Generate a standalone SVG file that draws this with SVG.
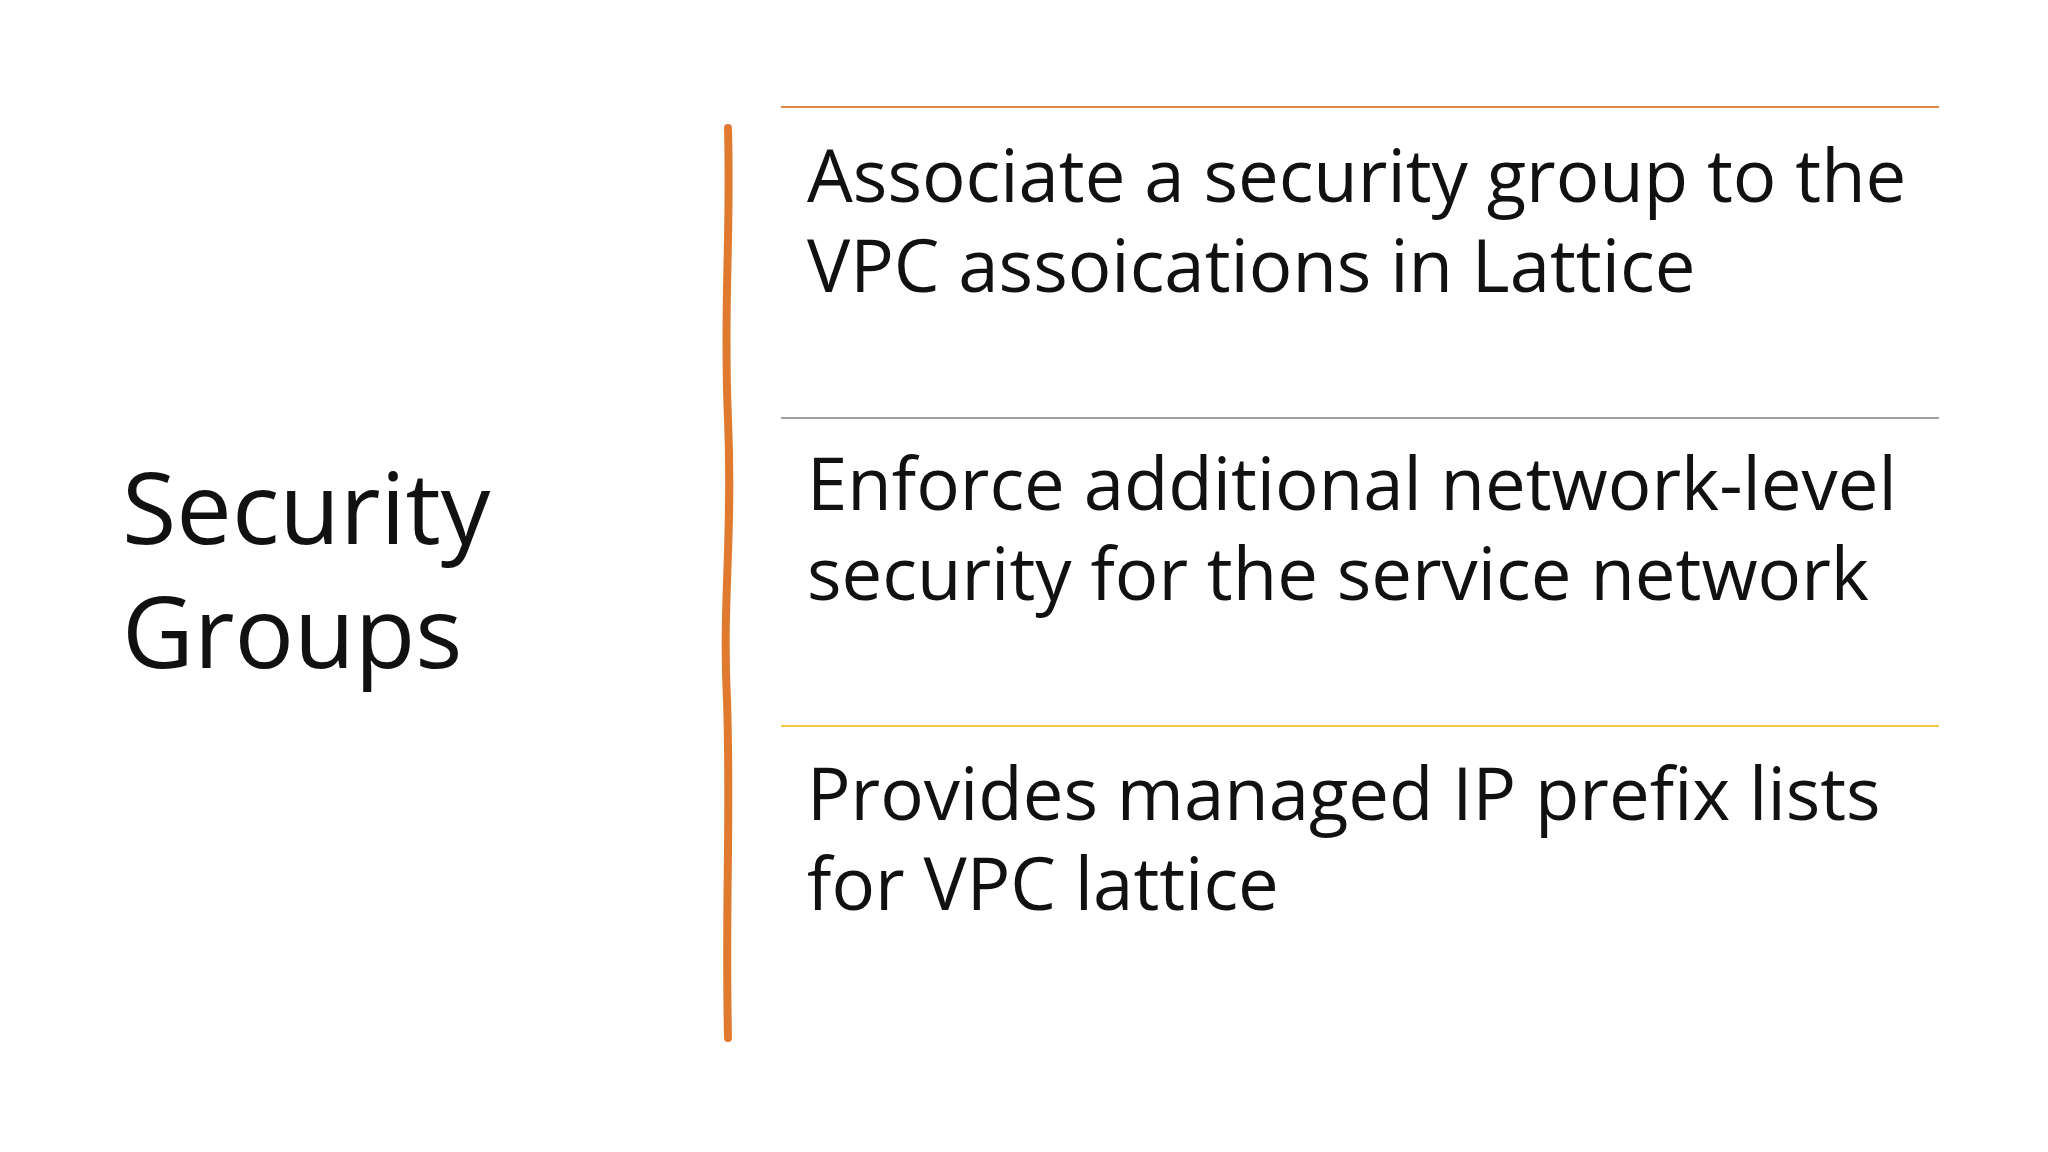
<svg xmlns="http://www.w3.org/2000/svg" width="2048" height="1152" viewBox="0 0 2048 1152">
<style>
.t{font-family:"Open Sans","Noto Sans",sans-serif;fill:#111}
.b{font-size:72.5px}
.h{font-size:99px}
</style>
<rect width="2048" height="1152" fill="#fff"/>
<g id="title"><text class="t h" x="122" y="544">Security</text><text class="t h" x="122" y="668">Groups</text></g>
<g id="bar"><path d="M728 128 C731 250 723 300 728 420 C733 540 722 600 727 700 C731 820 725 900 728 1038" fill="none" stroke="#e07a2f" stroke-width="8" stroke-linecap="round"/></g>
<g id="lines">
<line x1="781" y1="107" x2="1939" y2="107" stroke="#e08a4a" stroke-width="2"/>
<line x1="781" y1="418" x2="1939" y2="418" stroke="#a0a0a0" stroke-width="2"/>
<line x1="781" y1="726" x2="1939" y2="726" stroke="#f2c744" stroke-width="2"/>
</g>
<g id="item1"><text class="t b" x="807" y="202">Associate a security group to the</text><text class="t b" x="807" y="292">VPC assoications in Lattice</text></g>
<g id="item2"><text class="t b" x="807" y="510">Enforce additional network-level</text><text class="t b" x="807" y="600">security for the service network</text></g>
<g id="item3"><text class="t b" x="807" y="820">Provides managed IP prefix lists</text><text class="t b" x="807" y="910">for VPC lattice</text></g>
</svg>
